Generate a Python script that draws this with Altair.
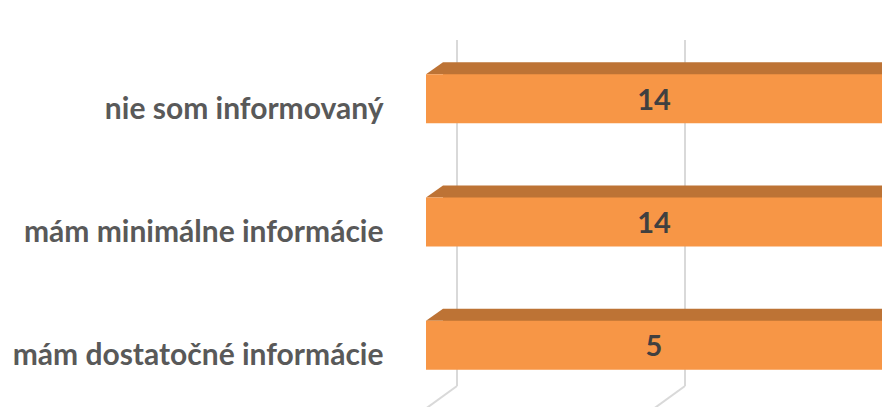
import altair as alt
import pandas as pd

categories = ["nie som informovaný", "mám minimálne informácie", "mám dostatočné informácie"]
values = [14, 14, 5]
axis_ticks = [0, 1, 2]
axis_max = 2

df = pd.DataFrame({"cat": categories, "value": values})
ticks = pd.DataFrame({"tick": axis_ticks})

FRONT = "#F79646"
TOP = "#BD7335"
SIDE = "#9C5A26"
GRID = "#D9D9D9"
FONT = "Lato"

xscale = alt.Scale(domain=[0, axis_max], clamp=True)
yscale = alt.Scale(domain=categories, paddingInner=0.603, paddingOuter=0.3015)

x_enc = alt.X("value:Q", scale=xscale, axis=None)
y_enc = alt.Y("cat:N", scale=yscale, sort=categories,
              axis=alt.Axis(title=None, domain=False, ticks=False, grid=False,
                            labelFont=FONT, labelFontWeight="bold", labelFontSize=30,
                            labelColor="#595959", labelPadding=43, labelOffset=11,
                            labelLimit=420))

grid = alt.Chart(ticks).mark_rule(color=GRID, strokeWidth=2, xOffset=31).encode(
    x=alt.X("tick:Q", scale=xscale, axis=None),
    y=alt.value(3), y2=alt.value(349))

floor = alt.Chart(ticks).mark_rule(color=GRID, strokeWidth=2, xOffset=31, x2Offset=-9).encode(
    x=alt.X("tick:Q", scale=xscale, axis=None),
    x2="tick:Q",
    y=alt.value(349), y2=alt.value(378))

base = alt.Chart(df)

side = base.mark_bar(color=SIDE, xOffset=0, x2Offset=17, yOffset=-12, y2Offset=-12).encode(
    x=x_enc, x2="value:Q", y=y_enc)

top = base.mark_bar(color=TOP, xOffset=17, x2Offset=17, yOffset=-12, y2Offset=-12).encode(
    x=x_enc, y=y_enc)

corner = base.mark_point(shape="M -1 0.706 L 1 -0.706 L 1 0.706 Z", filled=True, opacity=1,
                         color=TOP, size=289, strokeWidth=0, xOffset=8.5, yOffset=-30.5).encode(
    x=alt.X(datum=0, scale=xscale, axis=None), y=y_enc)

front = base.mark_bar(color=FRONT).encode(x=x_enc, y=y_enc)

labels = base.transform_calculate(
    mid=f"min(datum.value, {axis_max}) / 2"
).mark_text(font=FONT, fontWeight="bold", fontSize=29, color="#404040",
            baseline="middle", align="center", yOffset=2).encode(
    x=alt.X("mid:Q", scale=xscale, axis=None), y=y_enc, text="value:Q")

chart = alt.layer(grid, floor, side, top, corner, front, labels).properties(
    width=456, height=370,
    autosize=alt.AutoSizeParams(type="none"),
    padding={"left": 418, "top": 29, "right": 0, "bottom": 0},
).configure_view(stroke=None)

chart.save("out.html", embed_options={"renderer": "svg", "actions": False})
